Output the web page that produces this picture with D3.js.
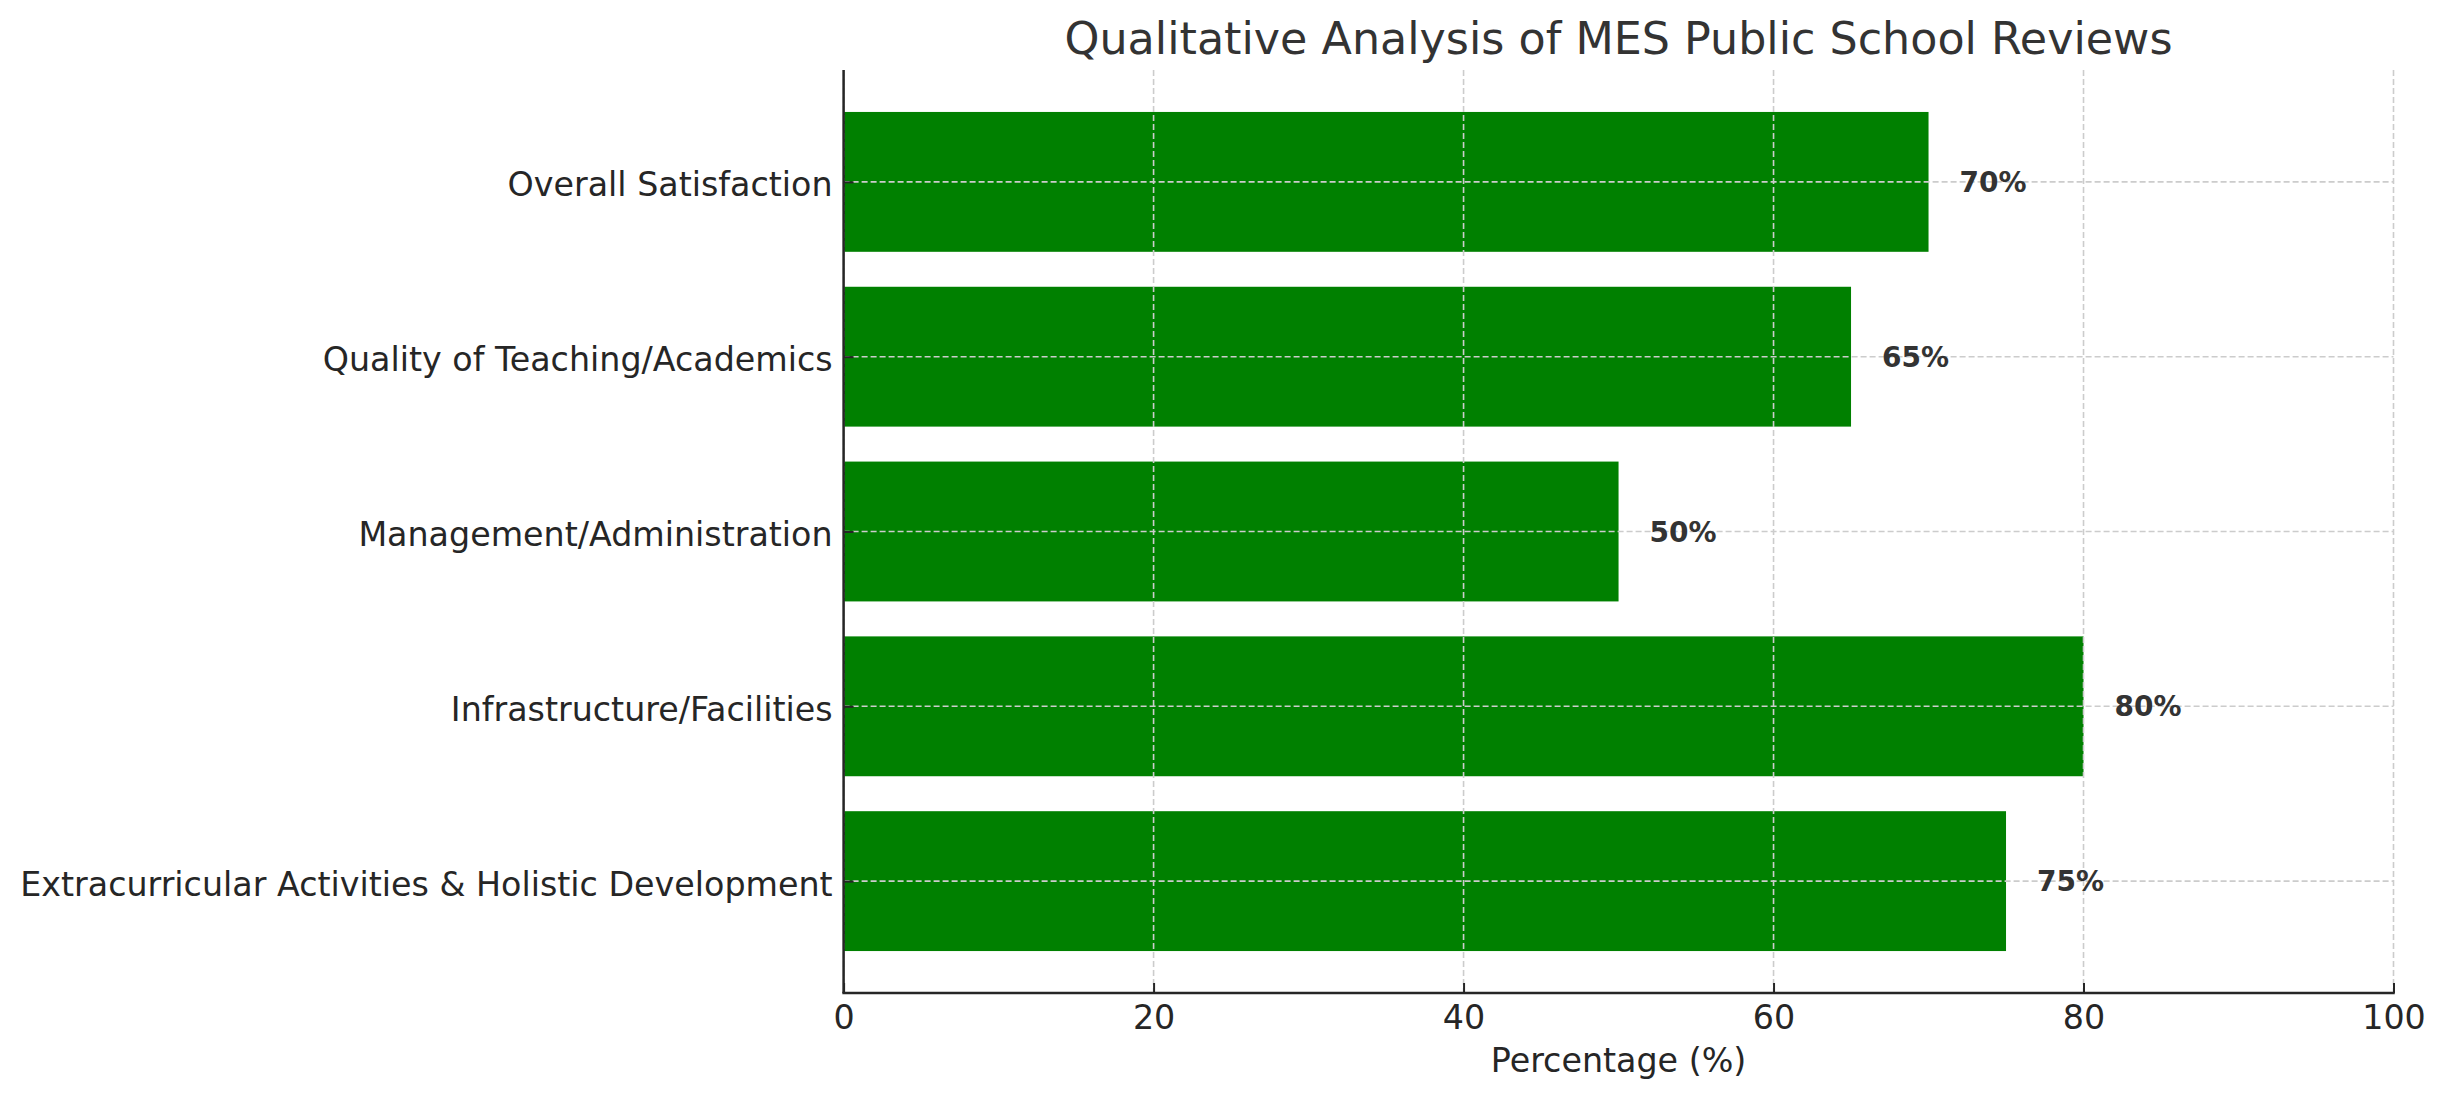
<!DOCTYPE html>
<html>
<head>
<meta charset="utf-8">
<script src="https://cdn.jsdelivr.net/npm/d3@7"></script>
<style>
    body { margin: 0; background: #fff; }
    svg { display: block; font-family: "DejaVu Sans", sans-serif; }
</style>
</head>
<body>
<svg id="chart" width="2445" height="1101"></svg>
<script>
const categories = [
    "Overall Satisfaction",
    "Quality of Teaching/Academics",
    "Management/Administration",
    "Infrastructure/Facilities",
    "Extracurricular Activities & Holistic Development",
];
const percentages = [70, 65, 50, 80, 75];
const xTicks = [0, 20, 40, 60, 80, 100];

const margin = { top: 70, right: 51.5, bottom: 108, left: 843.6 };
const width = 2445 - margin.left - margin.right;
const height = 1101 - margin.top - margin.bottom;

const svg = d3.select("#chart");
const g = svg.append("g").attr("transform", `translate(${margin.left},${margin.top})`);

const x = d3.scaleLinear().domain([0, 100]).range([0, width]);
// bar index scale, matplotlib style 5% margins around the bars
const y = d3.scaleLinear().domain([-0.64, categories.length - 1 + 0.64]).range([0, height]);
const barH = y(0.8) - y(0);

// bars
g.selectAll(".bar")
    .data(percentages)
    .enter()
    .append("rect")
    .attr("class", "bar")
    .attr("x", x(0))
    .attr("y", (d, i) => y(i) - barH / 2)
    .attr("width", (d) => x(d) - x(0))
    .attr("height", barH)
    .attr("fill", "#008000");

// grid on top of the bars
g.append("g")
    .selectAll("line")
    .data(xTicks)
    .enter()
    .append("line")
    .attr("x1", (d) => x(d))
    .attr("x2", (d) => x(d))
    .attr("y1", 0)
    .attr("y2", height)
    .attr("stroke", "#cccccc")
    .attr("stroke-width", 1.6)
    .attr("stroke-dasharray", "6,3");

g.append("g")
    .selectAll("line")
    .data(categories)
    .enter()
    .append("line")
    .attr("x1", 0)
    .attr("x2", width)
    .attr("y1", (d, i) => y(i))
    .attr("y2", (d, i) => y(i))
    .attr("stroke", "#cccccc")
    .attr("stroke-width", 1.6)
    .attr("stroke-dasharray", "6,3");

// x axis
const xAxis = g.append("g")
    .attr("transform", `translate(0,${height})`)
    .call(d3.axisBottom(x).tickValues(xTicks).tickSizeInner(-10).tickSizeOuter(0).tickPadding(0));
xAxis.select(".domain").remove();
xAxis.selectAll(".tick line").attr("stroke", "#262626").attr("stroke-width", 2);
xAxis.selectAll(".tick text")
    .attr("y", 36)
    .attr("dy", null)
    .attr("font-size", 33.3)
    .attr("font-family", "DejaVu Sans")
    .attr("fill", "#262626");

// y axis
const yAxis = g.append("g")
    .call(d3.axisLeft(y).tickValues(d3.range(categories.length))
        .tickFormat((i) => categories[i]).tickSizeInner(-10).tickSizeOuter(0).tickPadding(0));
yAxis.select(".domain").remove();
yAxis.selectAll(".tick line").attr("stroke", "#262626").attr("stroke-width", 2);
yAxis.selectAll(".tick text")
    .attr("x", -11)
    .attr("dy", 14)
    .attr("font-size", 33.3)
    .attr("font-family", "DejaVu Sans")
    .attr("fill", "#262626");

// spines (left and bottom only)
g.append("line")
    .attr("x1", 0).attr("x2", 0).attr("y1", 0).attr("y2", height)
    .attr("stroke", "#262626").attr("stroke-width", 2.5);
g.append("line")
    .attr("x1", -1.25).attr("x2", width + 1.25).attr("y1", height).attr("y2", height)
    .attr("stroke", "#262626").attr("stroke-width", 2.5);

// value labels
g.selectAll(".value")
    .data(percentages)
    .enter()
    .append("text")
    .attr("class", "value")
    .attr("x", (d) => x(d + 2))
    .attr("y", (d, i) => y(i))
    .attr("dy", 10)
    .attr("font-size", 28)
    .attr("font-weight", "bold")
    .attr("fill", "#333333")
    .text((d) => `${d}%`);

// axis label
g.append("text")
    .attr("x", width / 2)
    .attr("y", height + 79)
    .attr("text-anchor", "middle")
    .attr("font-size", 33.3)
    .attr("fill", "#262626")
    .text("Percentage (%)");

// title
g.append("text")
    .attr("x", width / 2)
    .attr("y", -16)
    .attr("text-anchor", "middle")
    .attr("font-size", 44.4)
    .attr("fill", "#333333")
    .text("Qualitative Analysis of MES Public School Reviews");
</script>
</body>
</html>
